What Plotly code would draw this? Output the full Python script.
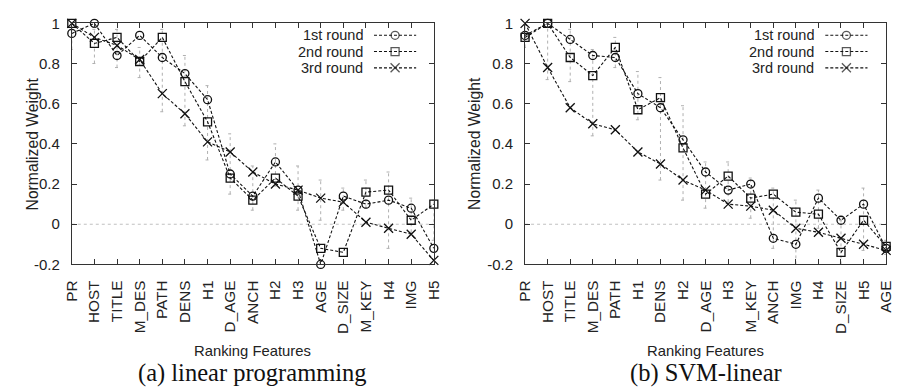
import plotly.graph_objects as go

# ---------------- data ----------------
features_lp = ["PR", "HOST", "TITLE", "M_DES", "PATH", "DENS", "H1", "D_AGE", "ANCH",
               "H2", "H3", "AGE", "D_SIZE", "M_KEY", "H4", "IMG", "H5"]
lp_round1 = [0.95, 1.00, 0.84, 0.94, 0.83, 0.75, 0.62, 0.25, 0.14, 0.31, 0.17, -0.20, 0.14, 0.10, 0.12, 0.08, -0.12]
lp_round2 = [1.00, 0.90, 0.93, 0.81, 0.93, 0.71, 0.51, 0.23, 0.12, 0.23, 0.14, -0.12, -0.14, 0.16, 0.17, 0.02, 0.10]
lp_round3 = [1.00, 0.93, 0.89, 0.82, 0.65, 0.55, 0.41, 0.36, 0.26, 0.20, 0.17, 0.13, 0.11, 0.01, -0.02, -0.05, -0.18]
lp_err_low = [0.87, 0.80, 0.78, 0.73, 0.56, 0.49, 0.32, 0.15, 0.07, 0.19, 0.07, 0.02, 0.07, 0.08, -0.12, -0.04, -0.08]
lp_err_high = [1.00, 0.97, 0.97, 0.88, 0.97, 0.84, 0.69, 0.45, 0.29, 0.40, 0.29, 0.22, 0.18, 0.22, 0.26, 0.13, 0.12]

features_svm = ["PR", "HOST", "TITLE", "M_DES", "PATH", "H1", "DENS", "H2", "D_AGE",
                "H3", "M_KEY", "ANCH", "IMG", "H4", "D_SIZE", "H5", "AGE"]
svm_round1 = [0.94, 1.00, 0.92, 0.84, 0.83, 0.65, 0.58, 0.42, 0.26, 0.17, 0.20, -0.07, -0.10, 0.13, 0.02, 0.10, -0.12]
svm_round2 = [0.93, 1.00, 0.83, 0.74, 0.88, 0.57, 0.63, 0.38, 0.15, 0.24, 0.13, 0.15, 0.06, 0.05, -0.14, 0.02, -0.11]
svm_round3 = [1.00, 0.78, 0.58, 0.50, 0.47, 0.36, 0.30, 0.22, 0.17, 0.10, 0.09, 0.07, -0.02, -0.04, -0.07, -0.10, -0.13]
svm_err_low = [0.88, 0.72, 0.71, 0.44, 0.78, 0.52, 0.22, 0.12, 0.08, 0.11, 0.03, -0.12, -0.20, -0.02, -0.20, -0.13, -0.15]
svm_err_high = [1.00, 0.98, 0.97, 0.87, 0.93, 0.76, 0.73, 0.59, 0.31, 0.31, 0.23, 0.18, 0.12, 0.17, 0.02, 0.18, -0.08]

y_tick_vals = [-0.2, 0, 0.2, 0.4, 0.6, 0.8, 1]
y_tick_text = ["-0.2", "0", "0.2", "0.4", "0.6", "0.8", "1"]
series_names = ["1st round", "2nd round", "3rd round"]
captions = ["(a) linear programming", "(b) SVM-linear"]

# ---------------- layout helpers ----------------
W, H = 901, 392
def px(x):
    return x / W
def py(y):
    return 1 - y / H

FONT = "Liberation Sans, Arial, sans-serif"
LINE = "#111111"
AX = "#333333"
TXT = "#222222"
symbols = ["circle-open", "square-open", "x-thin-open"]
panels = [
    dict(feat=features_lp, series=[lp_round1, lp_round2, lp_round3], lo=lp_err_low, hi=lp_err_high,
         x0=64, x1=433, xa="x", ya="y", ytitle_x=24, leg_text_x=362, leg_line=(372, 415)),
    dict(feat=features_svm, series=[svm_round1, svm_round2, svm_round3], lo=svm_err_low, hi=svm_err_high,
         x0=526, x1=894, xa="x2", ya="y2", ytitle_x=475, leg_text_x=822, leg_line=(832, 875)),
]
TOP, BOT = 15, 267

fig = go.Figure()
annotations = []
shapes = []

for k, p in enumerate(panels):
    n = len(p["feat"])
    idx = list(range(n))
    # error bars (dotted gray with caps)
    ex, ey = [], []
    d = 0.09
    for i in idx:
        lo, hi = p["lo"][i], p["hi"][i]
        ex += [i, i, None, i - d, i + d, None, i - d, i + d, None]
        ey += [lo, hi, None, lo, lo, None, hi, hi, None]
    fig.add_trace(go.Scatter(x=ex, y=ey, mode="lines", xaxis=p["xa"], yaxis=p["ya"],
                             line=dict(color="#b0b0b0", width=1, dash="dot"),
                             hoverinfo="skip", showlegend=False, cliponaxis=False))
    for s, vals in enumerate(p["series"]):
        fig.add_trace(go.Scatter(
            x=idx, y=vals, mode="lines+markers", name=series_names[s],
            xaxis=p["xa"], yaxis=p["ya"], showlegend=False, cliponaxis=False,
            line=dict(color=LINE, width=1.1, dash="3px,2px"),
            marker=dict(symbol=symbols[s], size=8 if s < 2 else 9, color=LINE,
                        line=dict(color=LINE, width=1.3))))
    # zero line dotted
    shapes.append(dict(type="line", xref=f"{p['xa']} domain", yref=p["ya"], x0=0, x1=1, y0=0, y1=0,
                       line=dict(color="#c0c0c0", width=1, dash="dot"), layer="below"))
    # axis titles and caption
    cx = (p["x0"] + p["x1"]) / 2
    annotations.append(dict(text="Normalized Weight", x=px(p["ytitle_x"]), y=py((TOP + BOT) / 2),
                            xref="paper", yref="paper", xanchor="center", yanchor="middle",
                            showarrow=False, textangle=-90,
                            font=dict(family=FONT, size=15.7, color=TXT)))
    annotations.append(dict(text="Ranking Features", x=px(cx), y=py(357), xref="paper", yref="paper",
                            xanchor="center", yanchor="middle",
                            showarrow=False, font=dict(family=FONT, size=14.8, color=TXT)))
    annotations.append(dict(text=captions[k], x=px(cx), y=py(381), xref="paper", yref="paper",
                            xanchor="center", yanchor="middle",
                            showarrow=False, font=dict(family="Liberation Serif, Times New Roman, serif",
                                                       size=24.5, color="#111")))
    # legend (gnuplot style: text then sample)
    for s in range(3):
        ly = 27.5 + 17 * s
        annotations.append(dict(text=series_names[s], x=px(p["leg_text_x"]), y=py(ly),
                                xref="paper", yref="paper", xanchor="right", yanchor="middle",
                                height=14, borderpad=0, showarrow=False,
                                font=dict(family=FONT, size=14.5, color=TXT)))
        la, lb = p["leg_line"]
        fig.add_trace(go.Scatter(
            x=[la, (la + lb) / 2, lb], y=[ly, ly, ly], xaxis="x3", yaxis="y3",
            mode="lines+markers", showlegend=False, hoverinfo="skip", cliponaxis=False,
            line=dict(color=LINE, width=1.1, dash="3px,2px"),
            marker=dict(symbol=symbols[s], size=[0, 8 if s < 2 else 9, 0], color=LINE,
                        line=dict(color=LINE, width=1.3))))

def xaxis_cfg(p, name):
    return dict(domain=[px(p["x0"]), px(p["x1"])], range=[0, len(p["feat"]) - 1],
                tickvals=list(range(len(p["feat"]))), ticktext=p["feat"], tickangle=-90,
                ticks="inside", ticklen=5, tickcolor=AX, showline=True, linecolor=AX, linewidth=1,
                mirror="ticks", showgrid=False, zeroline=False, ticklabelstandoff=9,
                tickfont=dict(family=FONT, size=15.3, color=TXT), anchor=name, fixedrange=True)

def yaxis_cfg(name):
    return dict(domain=[py(BOT), py(TOP)], range=[-0.2, 1.0], tickvals=y_tick_vals, ticktext=y_tick_text,
                ticks="inside", ticklen=5, tickcolor=AX, showline=True, linecolor=AX, linewidth=1,
                mirror="ticks", showgrid=False, zeroline=False, ticklabelstandoff=8,
                tickfont=dict(family=FONT, size=15, color=TXT), anchor=name, fixedrange=True)

fig.update_layout(
    width=W, height=H, margin=dict(l=0, r=0, t=0, b=0),
    paper_bgcolor="white", plot_bgcolor="rgba(0,0,0,0)", showlegend=False,
    xaxis=xaxis_cfg(panels[0], "y"), yaxis=yaxis_cfg("x"),
    xaxis2=xaxis_cfg(panels[1], "y2"), yaxis2=yaxis_cfg("x2"),
    xaxis3=dict(domain=[0, 1], range=[0, W], visible=False, anchor="y3", fixedrange=True),
    yaxis3=dict(domain=[0, 1], range=[H, 0], visible=False, anchor="x3", fixedrange=True),
    annotations=annotations, shapes=shapes,
)

fig.write_html("out.html")
